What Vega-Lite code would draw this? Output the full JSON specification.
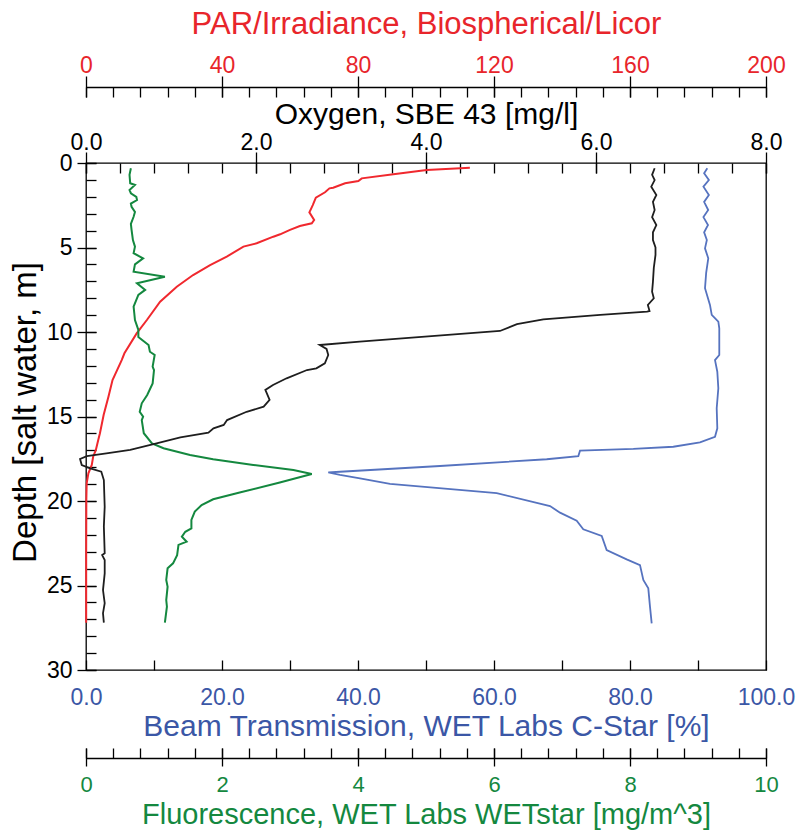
{
  "$schema": "https://vega.github.io/schema/vega-lite/v6.json",
  "width": 680,
  "height": 507,
  "autosize": {"type": "none"},
  "padding": {"left": 86, "top": 163, "right": 39, "bottom": 162},
  "background": "white",
  "datasets": {
    "par": [{"d":0.28,"v":112.9},{"d":0.41,"v":100.2},{"d":0.67,"v":90.4},{"d":0.91,"v":81.1},{"d":1.07,"v":80.1},{"d":1.2,"v":76.2},{"d":1.46,"v":72.7},{"d":1.5,"v":71.6},{"d":1.73,"v":70.3},{"d":2.05,"v":67.6},{"d":2.49,"v":66.7},{"d":2.92,"v":65.7},{"d":3.37,"v":67.1},{"d":3.57,"v":66.4},{"d":3.73,"v":62.9},{"d":3.96,"v":60.0},{"d":4.22,"v":57.1},{"d":4.36,"v":55.1},{"d":4.75,"v":50.2},{"d":4.95,"v":46.3},{"d":5.54,"v":41.4},{"d":6.04,"v":36.5},{"d":6.63,"v":31.5},{"d":7.32,"v":26.7},{"d":8.21,"v":21.8},{"d":9.29,"v":17.9},{"d":10.08,"v":14.9},{"d":11.26,"v":11.3},{"d":11.66,"v":10.5},{"d":12.84,"v":7.8},{"d":13.83,"v":6.6},{"d":14.9,"v":5.2},{"d":15.99,"v":4.1},{"d":16.39,"v":3.6},{"d":16.98,"v":2.9},{"d":17.38,"v":2.1},{"d":17.87,"v":1.7},{"d":18.36,"v":0.7},{"d":18.95,"v":0.2},{"d":19.9,"v":0.1},{"d":23,"v":0.05},{"d":27.2,"v":0.05}],
    "oxy": [{"d":0.31,"v":6.69},{"d":0.7,"v":6.66},{"d":1.01,"v":6.69},{"d":1.4,"v":6.65},{"d":1.89,"v":6.71},{"d":2.3,"v":6.67},{"d":2.78,"v":6.69},{"d":3.2,"v":6.66},{"d":3.67,"v":6.71},{"d":4.1,"v":6.67},{"d":4.56,"v":6.67},{"d":5.0,"v":6.7},{"d":5.44,"v":6.7},{"d":6.21,"v":6.68},{"d":7.02,"v":6.67},{"d":7.62,"v":6.66},{"d":8.01,"v":6.68},{"d":8.4,"v":6.61},{"d":8.76,"v":6.63},{"d":8.8,"v":6.6},{"d":8.99,"v":6.05},{"d":9.25,"v":5.38},{"d":9.54,"v":5.07},{"d":9.94,"v":4.87},{"d":10.57,"v":3.22},{"d":10.77,"v":2.75},{"d":11.0,"v":2.83},{"d":11.36,"v":2.85},{"d":11.85,"v":2.81},{"d":12.15,"v":2.71},{"d":12.25,"v":2.6},{"d":12.74,"v":2.36},{"d":13.14,"v":2.2},{"d":13.43,"v":2.11},{"d":14.02,"v":2.16},{"d":14.42,"v":2.09},{"d":14.72,"v":1.89},{"d":15.21,"v":1.66},{"d":15.5,"v":1.62},{"d":15.7,"v":1.5},{"d":15.96,"v":1.44},{"d":16.23,"v":1.11},{"d":16.59,"v":0.83},{"d":16.98,"v":0.52},{"d":17.18,"v":0.24},{"d":17.34,"v":0.01},{"d":17.51,"v":-0.07},{"d":17.87,"v":-0.05},{"d":18.07,"v":0.05},{"d":18.27,"v":0.18},{"d":18.76,"v":0.21},{"d":20.34,"v":0.22},{"d":21.5,"v":0.21},{"d":23.09,"v":0.22},{"d":23.2,"v":0.19},{"d":23.49,"v":0.22},{"d":24.28,"v":0.22},{"d":25.27,"v":0.2},{"d":26.05,"v":0.22},{"d":26.64,"v":0.2},{"d":27.2,"v":0.21}],
    "beam": [{"d":0.31,"v":91.37},{"d":0.6,"v":90.9},{"d":1.01,"v":91.6},{"d":1.4,"v":90.8},{"d":1.89,"v":91.6},{"d":2.3,"v":90.9},{"d":2.78,"v":91.5},{"d":3.2,"v":90.8},{"d":3.67,"v":91.47},{"d":4.1,"v":90.9},{"d":4.56,"v":91.3},{"d":5.05,"v":91.03},{"d":5.64,"v":91.51},{"d":6.5,"v":91.2},{"d":7.41,"v":91.03},{"d":8.4,"v":91.76},{"d":8.99,"v":92.02},{"d":9.39,"v":92.99},{"d":9.78,"v":93.13},{"d":11.36,"v":93.13},{"d":11.66,"v":92.5},{"d":12.35,"v":92.84},{"d":13.33,"v":92.99},{"d":14.51,"v":92.75},{"d":15.7,"v":92.84},{"d":16.2,"v":92.5},{"d":16.53,"v":90.29},{"d":16.79,"v":86.37},{"d":16.92,"v":80.49},{"d":17.02,"v":72.65},{"d":17.34,"v":72.4},{"d":17.53,"v":67.75},{"d":17.93,"v":52.06},{"d":18.27,"v":37.35},{"d":18.31,"v":35.63},{"d":18.46,"v":37.35},{"d":18.66,"v":40.29},{"d":18.99,"v":44.71},{"d":19.54,"v":60.4},{"d":20.3,"v":68.24},{"d":20.69,"v":69.71},{"d":21.17,"v":72.16},{"d":21.67,"v":73.13},{"d":22.07,"v":75.84},{"d":22.9,"v":76.57},{"d":23.45,"v":79.51},{"d":23.79,"v":81.47},{"d":24.67,"v":81.96},{"d":25.17,"v":82.69},{"d":26.25,"v":82.94},{"d":27.24,"v":83.19}],
    "fl": [{"d":0.31,"v":0.66},{"d":0.7,"v":0.64},{"d":1.2,"v":0.65},{"d":1.3,"v":0.72},{"d":1.6,"v":0.64},{"d":1.79,"v":0.66},{"d":2.0,"v":0.74},{"d":2.19,"v":0.75},{"d":2.4,"v":0.66},{"d":2.59,"v":0.67},{"d":2.9,"v":0.72},{"d":3.18,"v":0.7},{"d":3.6,"v":0.66},{"d":3.96,"v":0.67},{"d":4.56,"v":0.69},{"d":4.95,"v":0.72},{"d":5.34,"v":0.7},{"d":5.64,"v":0.84},{"d":6.0,"v":0.72},{"d":6.43,"v":0.7},{"d":6.73,"v":1.16},{"d":7.12,"v":0.75},{"d":7.51,"v":0.87},{"d":7.81,"v":0.77},{"d":8.5,"v":0.7},{"d":8.89,"v":0.71},{"d":9.29,"v":0.72},{"d":9.88,"v":0.77},{"d":10.3,"v":0.77},{"d":10.77,"v":0.92},{"d":11.17,"v":0.94},{"d":11.36,"v":1.01},{"d":12.05,"v":0.98},{"d":12.25,"v":1.0},{"d":13.04,"v":0.98},{"d":13.73,"v":0.9},{"d":14.22,"v":0.82},{"d":14.72,"v":0.79},{"d":15.01,"v":0.84},{"d":15.21,"v":0.82},{"d":15.99,"v":0.85},{"d":16.59,"v":0.97},{"d":16.88,"v":1.14},{"d":17.28,"v":1.53},{"d":17.53,"v":1.87},{"d":17.87,"v":2.46},{"d":18.17,"v":3.05},{"d":18.4,"v":3.32},{"d":18.91,"v":2.85},{"d":19.5,"v":2.26},{"d":19.9,"v":1.87},{"d":20.24,"v":1.7},{"d":20.63,"v":1.6},{"d":21.12,"v":1.55},{"d":21.62,"v":1.55},{"d":21.82,"v":1.46},{"d":22.11,"v":1.41},{"d":22.41,"v":1.48},{"d":22.6,"v":1.36},{"d":23.2,"v":1.34},{"d":23.69,"v":1.28},{"d":23.98,"v":1.2},{"d":24.67,"v":1.18},{"d":25.07,"v":1.2},{"d":25.86,"v":1.18},{"d":26.25,"v":1.19},{"d":27.2,"v":1.16}]
  },
  "layer": [
    {
      "data": {"name": "par"},
      "mark": {"type": "line", "opacity": 0},
      "encoding": {
        "x": {"field": "v", "type": "quantitative", "scale": {"domain": [0, 200], "nice": false, "zero": false},
              "axis": {"orient": "top", "offset": 66, "values": [0,8,16,24,32,40,48,56,64,72,80,88,96,104,112,120,128,136,144,152,160,168,176,184,192,200], "tickSize": 10, "labels": false, "domain": false, "title": null}},
        "y": {"field": "d", "type": "quantitative", "scale": {"domain": [0, 30], "reverse": true, "nice": false, "zero": false},
              "axis": {"orient": "left", "offset": -10, "values": [0,1,2,3,4,5,6,7,8,9,10,11,12,13,14,15,16,17,18,19,20,21,22,23,24,25,26,27,28,29,30], "tickSize": 10, "labels": false, "domain": false, "title": null}},
        "order": {"field": "d", "type": "quantitative"}
      }
    },
    {
      "data": {"name": "par"},
      "mark": {"type": "line", "opacity": 0},
      "encoding": {
        "x": {"field": "v", "type": "quantitative", "scale": {"domain": [0, 200], "nice": false, "zero": false},
              "axis": {"orient": "top", "offset": 76, "ticks": false, "labels": false, "domain": true, "title": null}},
        "y": {"field": "d", "type": "quantitative", "axis": null},
        "order": {"field": "d", "type": "quantitative"}
      }
    },
    {
      "data": {"name": "oxy"},
      "mark": {"type": "line", "opacity": 0},
      "encoding": {
        "x": {"field": "v", "type": "quantitative", "scale": {"domain": [0, 8], "nice": false, "zero": false},
              "axis": {"orient": "top", "offset": -10, "values": [0,0.4,0.8,1.2,1.6,2,2.4,2.8,3.2,3.6,4,4.4,4.8,5.2,5.6,6,6.4,6.8,7.2,7.6,8], "tickSize": 10, "labels": false, "domain": false, "title": null}},
        "y": {"field": "d", "type": "quantitative", "axis": null},
        "order": {"field": "d", "type": "quantitative"}
      }
    },
    {
      "data": {"name": "fl"},
      "mark": {"type": "line", "opacity": 0},
      "encoding": {
        "x": {"field": "v", "type": "quantitative", "scale": {"domain": [0, 10], "nice": false, "zero": false},
              "axis": {"orient": "bottom", "offset": 78, "values": [0,0.4,0.8,1.2,1.6,2,2.4,2.8,3.2,3.6,4,4.4,4.8,5.2,5.6,6,6.4,6.8,7.2,7.6,8,8.4,8.8,9.2,9.6,10], "tickSize": 10, "labels": false, "domain": false, "title": null}},
        "y": {"field": "d", "type": "quantitative", "axis": null},
        "order": {"field": "d", "type": "quantitative"}
      }
    },
    {
      "data": {"name": "fl"},
      "mark": {"type": "line", "opacity": 0},
      "encoding": {
        "x": {"field": "v", "type": "quantitative", "scale": {"domain": [0, 10], "nice": false, "zero": false},
              "axis": {"orient": "bottom", "offset": 88, "ticks": false, "labels": false, "domain": true, "title": null}},
        "y": {"field": "d", "type": "quantitative", "axis": null},
        "order": {"field": "d", "type": "quantitative"}
      }
    },
    {
      "data": {"name": "par"},
      "mark": {"type": "line", "color": "#f0282e", "strokeWidth": 2},
      "encoding": {
        "x": {"field": "v", "type": "quantitative", "scale": {"domain": [0, 200], "nice": false, "zero": false},
              "axis": {"orient": "top", "offset": 66, "values": [0,40,80,120,160,200], "tickSize": 21, "domain": false, "labelPadding": 4, "labelBaseline": "alphabetic", "labelColor": "#e8252b",
                       "title": "PAR/Irradiance, Biospherical/Licor", "titleColor": "#e8252b", "titleX": 340, "titleY": -64, "titleAlign": "center", "titleBaseline": "alphabetic", "titleFontSize": 31}},
        "y": {"field": "d", "type": "quantitative",
              "axis": {"orient": "left", "offset": -10, "values": [0,5,10,15,20,25,30], "tickSize": 19, "domain": false, "labelPadding": 5, "labelAlign": "right", "labelBaseline": "middle",
                       "title": "Depth [salt water, m]", "titleColor": "#000", "titleX": -61, "titleY": 249, "titleAlign": "center", "titleBaseline": "alphabetic", "titleAngle": 270, "titleFontSize": 33}},
        "order": {"field": "d", "type": "quantitative"}
      }
    },
    {
      "data": {"name": "fl"},
      "mark": {"type": "line", "color": "#14883f", "strokeWidth": 2},
      "encoding": {
        "x": {"field": "v", "type": "quantitative", "scale": {"domain": [0, 10], "nice": false, "zero": false},
              "axis": {"orient": "bottom", "offset": 78, "values": [0,2,4,6,8,10], "tickSize": 18, "domain": false, "labelPadding": 25, "labelBaseline": "alphabetic", "labelColor": "#14883f", "labelFontSize": 22, "format": "d",
                       "title": "Fluorescence, WET Labs WETstar [mg/m^3]", "titleColor": "#14883f", "titleX": 340, "titleY": 75, "titleAlign": "center", "titleBaseline": "alphabetic", "titleFontSize": 29}},
        "y": {"field": "d", "type": "quantitative", "axis": null},
        "order": {"field": "d", "type": "quantitative"}
      }
    },
    {
      "data": {"name": "oxy"},
      "mark": {"type": "line", "color": "#1e1e1e", "strokeWidth": 1.8},
      "encoding": {
        "x": {"field": "v", "type": "quantitative", "scale": {"domain": [0, 8], "nice": false, "zero": false},
              "axis": {"orient": "top", "offset": -10, "values": [0,2,4,6,8], "tickSize": 21, "domain": false, "labelPadding": 3, "labelBaseline": "alphabetic", "labelColor": "#000", "format": ".1f",
                       "title": "Oxygen, SBE 43 [mg/l]", "titleColor": "#000", "titleX": 340, "titleY": -50, "titleAlign": "center", "titleBaseline": "alphabetic"}},
        "y": {"field": "d", "type": "quantitative", "axis": null},
        "order": {"field": "d", "type": "quantitative"}
      }
    },
    {
      "data": {"name": "beam"},
      "mark": {"type": "line", "color": "#5673bf", "strokeWidth": 1.8},
      "encoding": {
        "x": {"field": "v", "type": "quantitative", "scale": {"domain": [0, 100], "nice": false, "zero": false},
              "axis": {"orient": "bottom", "offset": -10, "values": [0,10,20,30,40,50,60,70,80,90,100], "tickSize": 10, "domain": false, "labelPadding": 34, "labelBaseline": "alphabetic", "labelColor": "#3b57a6",
                       "labelExpr": "datum.value % 20 === 0 ? format(datum.value, '.1f') : ''",
                       "title": "Beam Transmission, WET Labs C-Star [%]", "titleColor": "#3b57a6", "titleX": 340, "titleY": 75, "titleAlign": "center", "titleBaseline": "alphabetic"}},
        "y": {"field": "d", "type": "quantitative", "axis": null},
        "order": {"field": "d", "type": "quantitative"}
      }
    }
  ],
  "resolve": {"scale": {"x": "independent"}, "axis": {"x": "independent", "y": "independent"}},
  "config": {
    "view": {"stroke": "#000", "strokeWidth": 1.3},
    "axis": {
      "grid": false,
      "labelFont": "Liberation Sans",
      "titleFont": "Liberation Sans",
      "labelFontSize": 23,
      "titleFontSize": 30,
      "titleFontWeight": "normal",
      "labelFontWeight": "normal",
      "tickColor": "#000",
      "domainColor": "#000",
      "tickWidth": 1.3,
      "domainWidth": 1.3,
      "labelFlush": false,
      "labelOverlap": false,
      "labelBound": false,
      "labelColor": "#000"
    }
  }
}
